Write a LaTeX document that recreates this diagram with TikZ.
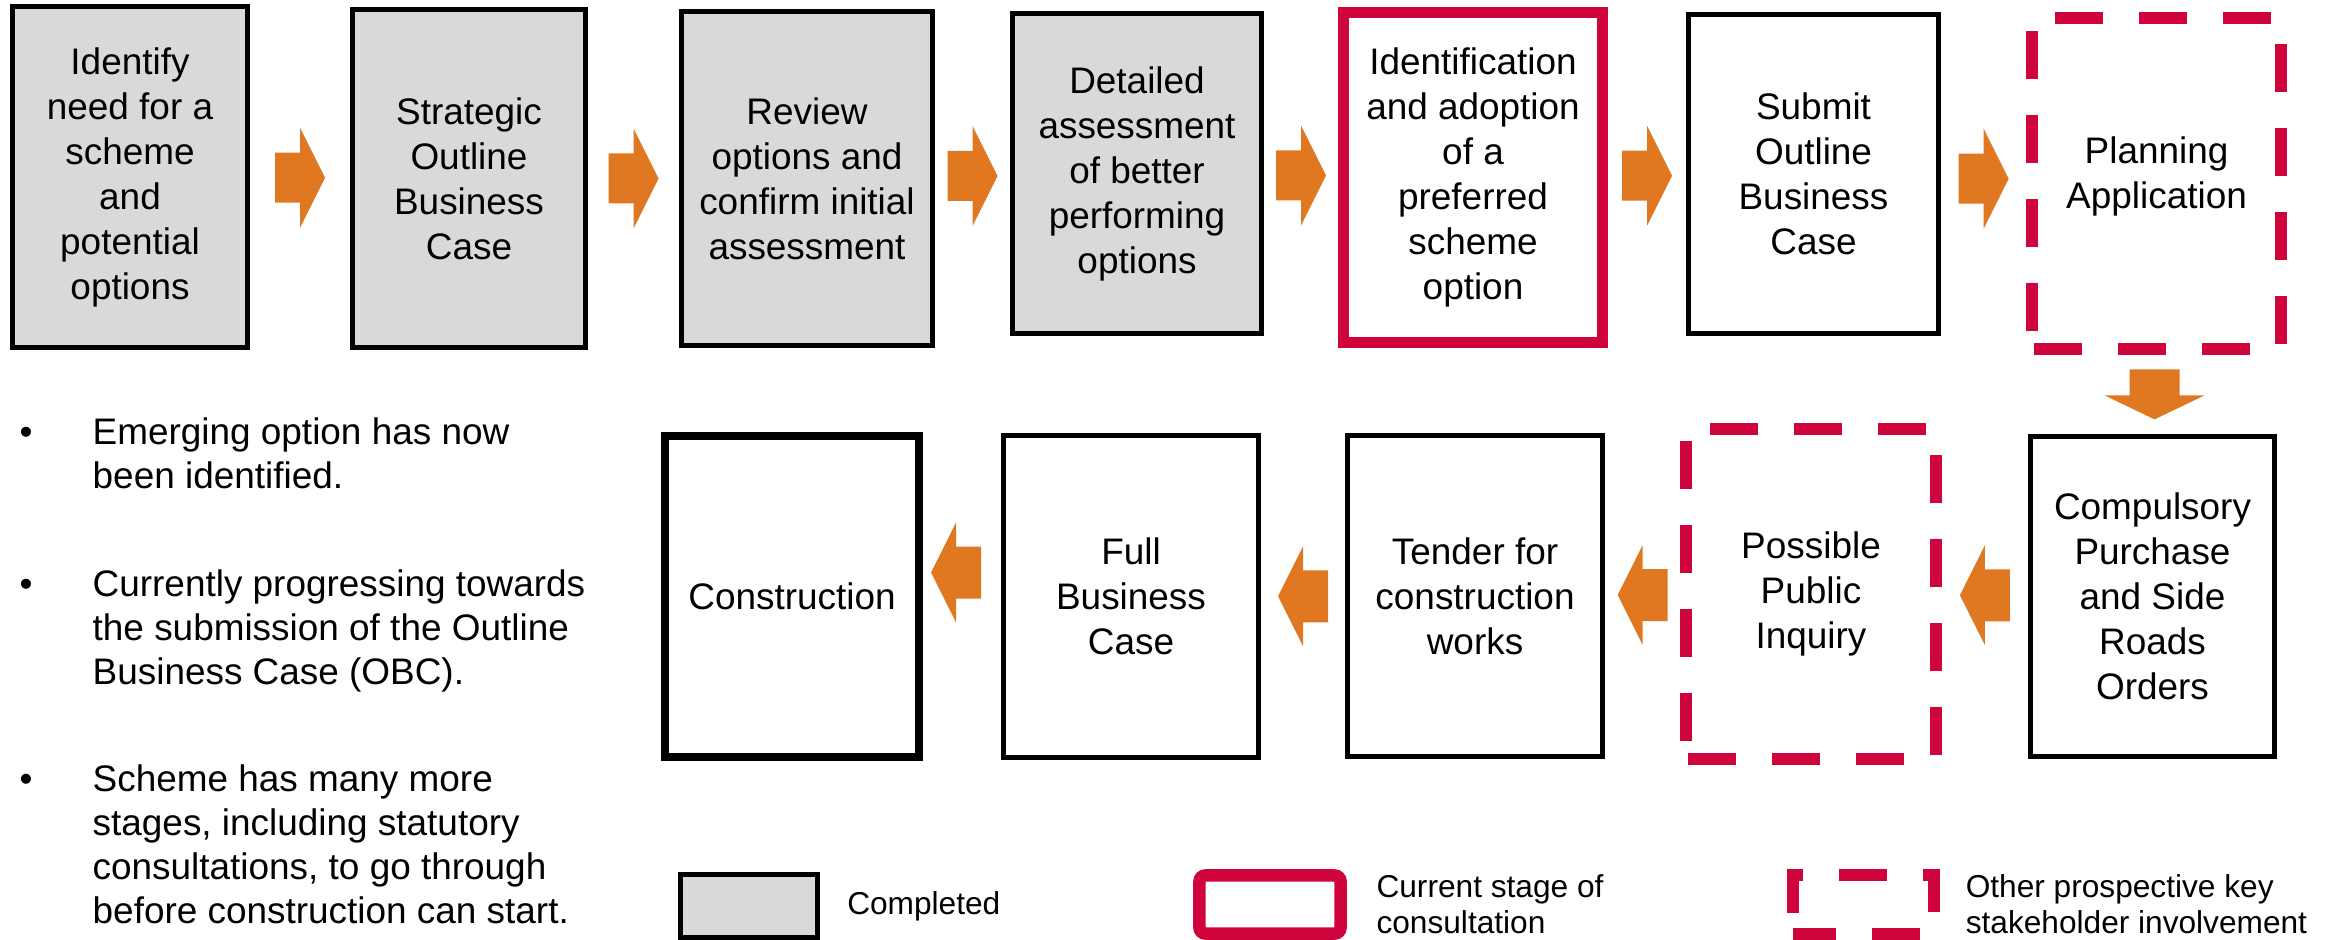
\documentclass[tikz,border=0pt]{standalone}
\usepackage{fontspec}
\setmainfont{Liberation Sans}
\usetikzlibrary{positioning, calc}
\definecolor{stepgray}{HTML}{D9D9D9}
\definecolor{stepred}{HTML}{D0043C}
\definecolor{steporange}{HTML}{E07822}
\newcommand{\stagefont}{\fontsize{10.5}{12.8}\selectfont}
\newcommand{\notefont}{\fontsize{10.5}{12.5}\selectfont}
\newcommand{\keyfont}{\fontsize{9}{10.2}\selectfont}

\begin{document}
\begin{tikzpicture}[
  x=0.01cm, y=-0.01cm,
  stage/.style={draw, line width=0.05cm, inner sep=0pt, align=center, font=\stagefont},
  done/.style={stage, fill=stepgray},
  current/.style={stage, draw=stepred, line width=0.11cm},
  prospect/.style={stage, draw=stepred, line width=0.115cm,
                   dash pattern=on 0.48cm off 0.36cm, dash phase=0.82cm},
  note/.style={anchor=north west, inner sep=0pt, align=left, font=\notefont},
  keytext/.style={inner sep=0pt, align=left, font=\keyfont},
  stepfwd/.pic={\fill[steporange] (-25,-25) -- (0,-25) -- (0,-50) -- (25,0) -- (0,50) -- (0,25) -- (-25,25) -- cycle;},
  stepback/.pic={\fill[steporange] (25,-26) -- (0,-26) -- (0,-50) -- (-25,0) -- (0,50) -- (0,26) -- (25,26) -- cycle;},
  stepdown/.pic={\fill[steporange] (-25,-25) -- (-25,1) -- (-50,1) -- (0,25) -- (50,1) -- (25,1) -- (25,-25) -- cycle;},
]
  \useasboundingbox (0,0) rectangle (2325,940);
  \clip (0,0) rectangle (2325,940);

  % first row of stages
  \node[done, minimum width=2.35cm, minimum height=3.41cm] (idneed) at (130,177)
       {Identify\\need for a\\scheme\\and\\potential\\options};
  \node[done, minimum width=2.33cm, minimum height=3.38cm] (sobc) at (469,178.5)
       {Strategic\\Outline\\Business\\Case};
  \node[done, minimum width=2.51cm, minimum height=3.34cm] (review) at (807,178.5)
       {Review\\options and\\confirm initial\\assessment};
  \node[done, minimum width=2.49cm, minimum height=3.20cm] (detail) at (1137,173.5)
       {Detailed\\assessment\\of better\\performing\\options};
  \node[current, minimum width=2.59cm, minimum height=3.30cm] (prefopt) at (1473,177.5)
       {Identification\\and adoption\\of a\\preferred\\scheme\\option};
  \node[stage, minimum width=2.50cm, minimum height=3.19cm] (submitobc) at (1813.5,174)
       {Submit\\Outline\\Business\\Case};
  \node[prospect, minimum width=2.49cm, minimum height=3.31cm] (planapp) at (2156.5,183.5)
       {Planning\\Application\rule[-0.22cm]{0pt}{0pt}};

  % second row, runs right to left
  \node[stage, minimum width=2.44cm, minimum height=3.20cm] (cpo) at (2152.5,596.5)
       {Compulsory\\Purchase\\and Side\\Roads\\Orders};
  \node[prospect, minimum width=2.50cm, minimum height=3.30cm] (inquiry) at (1811,594)
       {Possible\\Public\\Inquiry};
  \node[stage, minimum width=2.55cm, minimum height=3.21cm] (tender) at (1475,596)
       {Tender for\\construction\\works};
  \node[stage, minimum width=2.55cm, minimum height=3.22cm] (fullbc) at (1131,596.5)
       {Full\\Business\\Case};
  \node[stage, line width=0.08cm, minimum width=2.54cm, minimum height=3.21cm] (constr) at (792,596.5)
       {Construction};

  % block arrows
  \pic at ($(idneed.east)!0.5!(sobc.west)$) {stepfwd};
  \pic at ($(sobc.east)!0.5!(review.west)$) {stepfwd};
  \pic at ($(review.east)!0.5!(detail.west)$) {stepfwd};
  \pic at ($(detail.east)!0.5!(prefopt.west)$) {stepfwd};
  \pic at ($(prefopt.east)!0.5!(submitobc.west)$) {stepfwd};
  \pic at ($(submitobc.east)!0.5!(planapp.west)$) {stepfwd};
  \pic at ($(planapp.south)!0.5!(cpo.north)$) {stepdown};
  \pic at ($(cpo.west)!0.5!(inquiry.east)$) {stepback};
  \pic at ($(inquiry.west)!0.5!(tender.east)$) {stepback};
  \pic at ($(tender.west)!0.5!(fullbc.east)$) {stepback};
  \pic[shift={(-6,-24)}] at ($(fullbc.west)!0.5!(constr.east)$) {stepback};

  % notes
  \node[anchor=base, font=\notefont] (dot1) at (26,444) {\textbullet};
  \node[note] (note1) at (92,417) {Emerging option has now\\been identified.};
  \node[anchor=base, font=\notefont] (dot2) at (26,596) {\textbullet};
  \node[note] (note2) at (92,569) {Currently progressing towards\\the submission of the Outline\\Business Case (OBC).};
  \node[anchor=base, font=\notefont] (dot3) at (26,791) {\textbullet};
  \node[note] (note3) at (92,764) {Scheme has many more\\stages, including statutory\\consultations, to go through\\before construction can start.};

  % key
  \node[done, minimum width=1.36cm, minimum height=0.62cm] (keydone) at (749,906) {};
  \node[keytext, right=0.27cm of keydone] (keydonetxt) {Completed};
  \node[current, rounded corners=0.06cm, line width=0.125cm, minimum width=1.41cm, minimum height=0.58cm] (keycur) at (1270,904.5) {};
  \node[keytext, right=0.29cm of keycur] (keycurtxt) {Current stage of\\consultation};
  \node[prospect, line width=0.12cm, dash phase=0.05cm, minimum width=1.41cm, minimum height=0.59cm] (keyother) at (1863.5,904.5) {};
  \node[keytext, right=0.25cm of keyother] (keyothertxt) {Other prospective key\\stakeholder involvement};
\end{tikzpicture}
\end{document}
